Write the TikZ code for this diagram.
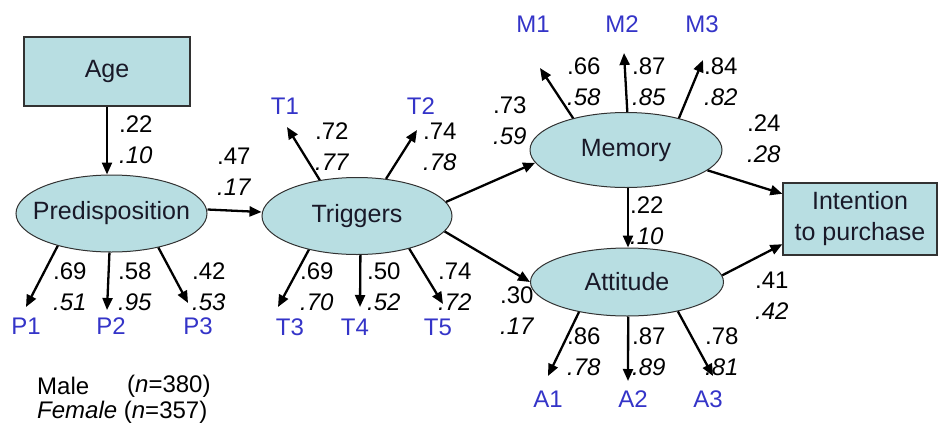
\documentclass[tikz,border=0pt]{standalone}
\usepackage{fontspec}
\setmainfont{Liberation Sans}
\usetikzlibrary{shapes.geometric,arrows.meta}
\definecolor{boxfill}{RGB}{184,222,226}
\definecolor{boxline}{RGB}{50,50,50}
\definecolor{lblue}{RGB}{52,52,200}
\definecolor{ntext}{RGB}{25,25,40}
\tikzset{
  latent/.style={ellipse,draw=boxline,line width=1pt,fill=boxfill,inner sep=0pt,text=ntext,font=\fontsize{25}{30}\selectfont},
  observed/.style={rectangle,draw=boxline,line width=1.2pt,fill=boxfill,inner sep=0pt,text=ntext,font=\fontsize{25}{30}\selectfont,align=center},
  ind/.style={text=lblue,inner sep=0pt,font=\fontsize{24}{28}\selectfont},
  coef/.style={inner sep=0pt,anchor=west,align=left,font=\fontsize{24}{31}\selectfont},
  pth/.style={line width=2.3pt,-{Triangle[length=12pt,width=10pt]}},
  leg/.style={inner sep=0pt,anchor=west,font=\fontsize{24}{26}\selectfont}
}
\begin{document}
\begin{tikzpicture}[x=1pt,y=-1pt]
\useasboundingbox (0,0) rectangle (938,432);
% main nodes
\node[observed,minimum width=166pt,minimum height=69pt] (age) at (107,71.5) {Age};
\node[latent,minimum width=191pt,minimum height=77pt] (pred) at (111.5,213.5) {\makebox[0pt]{Predisposition}};
\node[latent,minimum width=190pt,minimum height=77pt] (trig) at (357,216) {\makebox[0pt]{Triggers}};
\node[latent,minimum width=192pt,minimum height=75pt] (mem) at (626,150) {\makebox[0pt]{Memory}};
\node[latent,minimum width=193pt,minimum height=68pt] (att) at (627,282) {\makebox[0pt]{Attitude}};
\node[observed,minimum width=154pt,minimum height=72pt] (int) at (860,219) {Intention\\[1pt]to purchase};
% indicator labels
\node[ind] (P1) at (26,326) {P1};
\node[ind] (P2) at (111,326) {P2};
\node[ind] (P3) at (198,326) {P3};
\node[ind] (T1) at (285,106) {T1};
\node[ind] (T2) at (421,106) {T2};
\node[ind] (T3) at (290,327) {T3};
\node[ind] (T4) at (355,327) {T4};
\node[ind] (T5) at (438,327) {T5};
\node[ind] (M1) at (533,24) {M1};
\node[ind] (M2) at (622,24) {M2};
\node[ind] (M3) at (702,24) {M3};
\node[ind] (A1) at (548,399) {A1};
\node[ind] (A2) at (633,399) {A2};
\node[ind] (A3) at (708,399) {A3};
% arrow tips
\coordinate (p1t) at (26,307);
\coordinate (p2t) at (107,310);
\coordinate (p3t) at (188,303);
\coordinate (t1t) at (287,127);
\coordinate (t2t) at (417,130);
\coordinate (t3t) at (278,307);
\coordinate (t4t) at (360,307);
\coordinate (t5t) at (443,304);
\coordinate (m1t) at (540,68);
\coordinate (m2t) at (624,53);
\coordinate (m3t) at (703,60);
\coordinate (a1t) at (548,376);
\coordinate (a2t) at (628,381);
\coordinate (a3t) at (713,376);
% structural paths
\draw[pth] (age.south) -- (age.south |- pred.north);
\draw[pth] ([yshift=4pt]pred.east) -- ([yshift=4pt]trig.west);
\draw[pth] (trig.9) -- (mem.188);
\draw[pth] (trig.350) -- (att.180);
\draw[pth] ([xshift=2pt]mem.south) -- ([xshift=1pt]att.north);
\draw[pth] (mem.346) -- (int.162);
\draw[pth] (att.4) -- (int.198);
% measurement paths
\draw[pth] (pred.211) -- (p1t);
\draw[pth] (pred.267) -- (p2t);
\draw[pth] (pred.324) -- (p3t);
\draw[pth] (trig.136) -- (t1t);
\draw[pth] (trig.52) -- (t2t);
\draw[pth] (trig.215) -- (t3t);
\draw[pth] (trig.275) -- (t4t);
\draw[pth] (trig.328) -- (t5t);
\draw[pth] (mem.149) -- (m1t);
\draw[pth] (mem.88) -- (m2t);
\draw[pth] (mem.31) -- (m3t);
\draw[pth] (att.212) -- (a1t);
\draw[pth] (att.272) -- (a2t);
\draw[pth] (att.330) -- (a3t);
% coefficients
\node[coef] (c1) at (119,140) {.22\\\textit{.10}};
\node[coef] (c2) at (217,172) {.47\\\textit{.17}};
\node[coef] (c3) at (53,287) {.69\\\textit{.51}};
\node[coef] (c4) at (118,287) {.58\\\textit{.95}};
\node[coef] (c5) at (192,287) {.42\\\textit{.53}};
\node[coef] (c6) at (315,147) {.72\\\textit{.77}};
\node[coef] (c7) at (423,147) {.74\\\textit{.78}};
\node[coef] (c8) at (300,287) {.69\\\textit{.70}};
\node[coef] (c9) at (367,287) {.50\\\textit{.52}};
\node[coef] (c10) at (438,287) {.74\\\textit{.72}};
\node[coef] (c11) at (493,121) {.73\\\textit{.59}};
\node[coef] (c12) at (500,311) {.30\\\textit{.17}};
\node[coef] (c13) at (567,82) {.66\\\textit{.58}};
\node[coef] (c14) at (632,82) {.87\\\textit{.85}};
\node[coef] (c15) at (704,82) {.84\\\textit{.82}};
\node[coef] (c16) at (747,139) {.24\\\textit{.28}};
\node[coef] (c17) at (630,221) {.22\\\textit{.10}};
\node[coef] (c18) at (755,296) {.41\\\textit{.42}};
\node[coef] (c19) at (567,352) {.86\\\textit{.78}};
\node[coef] (c20) at (632,352) {.87\\\textit{.89}};
\node[coef] (c21) at (705,352) {.78\\\textit{.81}};
% legend
\node[leg] (l1) at (37,386) {Male};
\node[leg] (l2) at (127,386) {(\textit{n}=380)};
\node[leg] (l3) at (37,412) {\textit{Female} (\textit{n}=357)};
\end{tikzpicture}
\end{document}
